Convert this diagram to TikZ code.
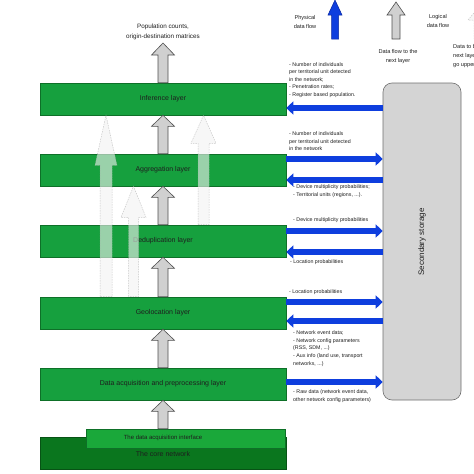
\documentclass[tikz,border=0pt]{standalone}
\usepackage{fontspec}
\setmainfont{Liberation Sans}
\usetikzlibrary{arrows.meta,calc}
\definecolor{layergreen}{RGB}{22,160,62}
\definecolor{layeredge}{RGB}{14,112,40}
\definecolor{coregreen}{RGB}{10,118,30}
\definecolor{ifacegreen}{RGB}{26,168,58}
\definecolor{flowblue}{RGB}{14,62,222}
\definecolor{flowbluedark}{RGB}{10,40,160}
\definecolor{storagegray}{RGB}{212,212,212}
\definecolor{storageedge}{RGB}{110,110,110}
\definecolor{arrowgray}{RGB}{208,208,208}
\definecolor{arrowedge}{RGB}{80,80,80}
\definecolor{txt}{RGB}{30,30,30}
% vertical block arrow: #1 style, #2 x centre, #3 bottom point, #4 tip point,
% #5 shaft half width, #6 head half width, #7 head length
\newcommand{\vblock}[7]{%
  \draw[#1] let \p1=(#3), \p2=(#4) in
   ({(#2-#5)*1pt},\y1) -- ({(#2-#5)*1pt},{\y2-#7*1pt}) -- ({(#2-#6)*1pt},{\y2-#7*1pt})
   -- ({#2*1pt},\y2) -- ({(#2+#6)*1pt},{\y2-#7*1pt}) -- ({(#2+#5)*1pt},{\y2-#7*1pt})
   -- ({(#2+#5)*1pt},\y1) -- cycle;}
\begin{document}
\begin{tikzpicture}[x=1pt,y=-1pt,
  layer/.style={draw=layeredge, line width=0.6pt, fill=layergreen, minimum width=246pt,
     minimum height=32pt, inner sep=0pt, text=txt, font=\fontsize{7}{8.4}\selectfont},
  lab/.style={anchor=west, align=left, inner sep=0pt, text=txt,
     font=\fontsize{5.3}{7.6}\selectfont},
  legend/.style={align=center, inner sep=0pt, text=txt, font=\fontsize{5.6}{8.6}\selectfont},
  bluearr/.style={draw=flowblue, line width=5.5pt,
     -{Triangle[length=7pt,width=13pt]}},
  grayarr/.style={fill=arrowgray, draw=arrowedge, line width=0.6pt, line join=miter},
  lightarr/.style={fill=gray!10, fill opacity=0.6, draw=gray!70, draw opacity=0.6,
     line width=0.5pt, dash pattern=on 1.5pt off 1pt},
  bluelegend/.style={fill=flowblue, draw=flowbluedark, line width=0.5pt}
  ]
\useasboundingbox (0,0) rectangle (474,474);

% layers
\node[layer] (inf) at (163,99) {Inference layer};
\node[layer] (agg) at (163,170) {Aggregation layer};
\node[layer] (ded) at (163,241) {Deduplication layer};
\node[layer] (geo) at (163,313) {Geolocation layer};
\node[layer] (acq) at (163,384) {Data acquisition and preprocessing layer};
\node[layer, fill=coregreen, draw=coregreen!70!black] (core) at (163,453) {};
\node[draw=layeredge, line width=0.6pt, fill=ifacegreen, minimum width=199pt,
      minimum height=19pt, inner sep=0pt] (iface) at (185.5,438.5) {};
\node[inner sep=0pt, text=txt, font=\fontsize{6}{7}\selectfont] (ifacetxt) at (163,438) {The data acquisition interface};
\node[inner sep=0pt, text=txt, font=\fontsize{7}{8.4}\selectfont] (coretxt) at (163,454) {The core network};

% secondary storage
\node[draw=storageedge, line width=0.6pt, fill=storagegray, rounded corners=9pt,
      minimum width=78pt, minimum height=317pt, inner sep=0pt] (store) at (422,241.5) {};
\node[rotate=90, inner sep=0pt, text=txt, font=\fontsize{8}{9}\selectfont] (storetxt) at (422,242) {Secondary storage};

% gray logical arrows between layers
\coordinate (outtip) at (163,43);
\vblock{grayarr}{163}{iface.north}{acq.south}{5}{11.5}{11}
\vblock{grayarr}{163}{acq.north}{geo.south}{5}{11.5}{11}
\vblock{grayarr}{163}{geo.north}{ded.south}{5}{11.5}{11}
\vblock{grayarr}{163}{ded.north}{agg.south}{5}{11.5}{11}
\vblock{grayarr}{163}{agg.north}{inf.south}{5}{11.5}{11}
\vblock{grayarr}{163}{inf.north}{outtip}{5}{11.5}{12}
\node[legend, font=\fontsize{6.3}{9.6}\selectfont] (outtxt) at (163,32) {Population counts,\\origin-destination matrices};

% light arrows (data going to upper layers)
\vblock{lightarr}{106}{geo.north}{inf.south}{6}{11}{50}
\vblock{lightarr}{133.5}{geo.north}{agg.south}{5}{12.5}{31}
\vblock{lightarr}{203.5}{ded.north}{inf.south}{5.5}{12.5}{28}

% blue physical flows
\draw[bluearr] (store.west |- 0,108) -- (inf.east |- 0,108);
\draw[bluearr] (agg.east |- 0,159) -- (store.west |- 0,159);
\draw[bluearr] (store.west |- 0,180) -- (agg.east |- 0,180);
\draw[bluearr] (ded.east |- 0,231) -- (store.west |- 0,231);
\draw[bluearr] (store.west |- 0,252) -- (ded.east |- 0,252);
\draw[bluearr] (geo.east |- 0,302) -- (store.west |- 0,302);
\draw[bluearr] (store.west |- 0,321) -- (geo.east |- 0,321);
\draw[bluearr] (acq.east |- 0,382) -- (store.west |- 0,382);

% flow labels
\node[lab] (l1) at (289,80) {- Number of individuals\\per territorial unit detected\\in the network;\\- Penetration rates;\\- Register based population.};
\node[lab] (l2) at (289,141.5) {- Number of individuals\\per territorial unit detected\\in the network};
\node[lab] (l3) at (293,191) {- Device multiplicity probabilities;\\- Territorial units (regions, ...).};
\node[lab] (l4) at (293,220) {- Device multiplicity probabilities};
\node[lab] (l5) at (290,262) {- Location probabilities};
\node[lab] (l6) at (289,292) {- Location probabilities};
\node[lab] (l7) at (293,348.5) {- Network event data;\\- Network config parameters\\(RSS, SDM, ...)\\- Aux info (land use, transport\\networks, ...)};
\node[lab] (l8) at (293,396) {- Raw data (network event data,\\other network config parameters)};

% legend
\coordinate (lb1) at (335,39); \coordinate (lb2) at (335,0);
\vblock{bluelegend}{335}{lb1}{lb2}{3.5}{7}{15}
\node[legend] (phys) at (305,22) {Physical\\data flow};
\coordinate (lg1) at (396,39); \coordinate (lg2) at (396,2);
\vblock{grayarr}{396}{lg1}{lg2}{4}{9}{13}
\node[legend] (logic) at (438,21) {Logical\\data flow};
\node[legend] (nextl) at (398,56.5) {Data flow to the\\next layer};
\coordinate (ll1) at (479,39); \coordinate (ll2) at (479,7);
\vblock{lightarr}{479}{ll1}{ll2}{5}{11}{13}
\node[legend, anchor=west, align=left] (upper) at (453,56) {Data to be\\next layers\\go upper};
\end{tikzpicture}
\end{document}
